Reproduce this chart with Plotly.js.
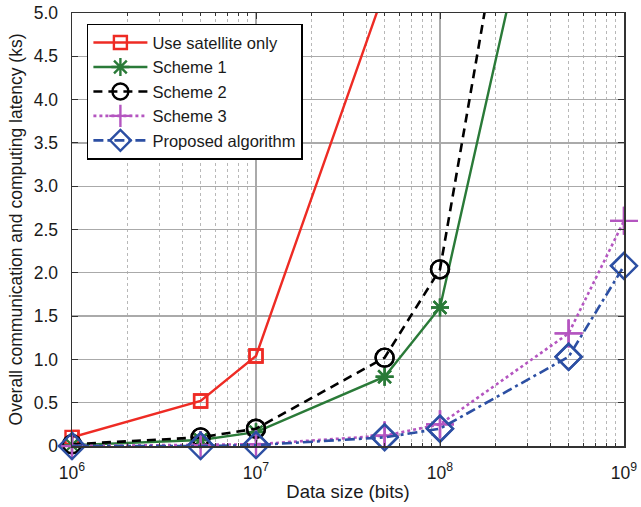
<!DOCTYPE html>
<html><head><meta charset="utf-8">
<script src="https://cdn.plot.ly/plotly-3.0.1.min.js"></script>
<style>html,body{margin:0;padding:0;background:#fff}#c{width:641px;height:507px}</style>
</head><body><div id="c"></div>
<script>
const dataSize = [1e6, 5e6, 1e7, 5e7, 1e8, 5e8, 1e9];
const satelliteOnly = [0.10, 0.52, 1.04, 5.26];
const scheme1 = [0.01, 0.07, 0.16, 0.80, 1.60, 8.2];
const scheme2 = [0.02, 0.10, 0.20, 1.02, 2.04, 10.6];
const scheme3 = [0.00, 0.01, 0.02, 0.12, 0.25, 1.30, 2.60];
const proposed = [0.00, 0.00, 0.01, 0.10, 0.20, 1.03, 2.08];
const yTicks = [0, 0.5, 1.0, 1.5, 2.0, 2.5, 3.0, 3.5, 4.0, 4.5, 5.0];
const yTickText = ['0','0.5','1.0','1.5','2.0','2.5','3.0','3.5','4.0','4.5','5.0'];
const xTicks = [1e6, 1e7, 1e8, 1e9];
const xTickText = ['10<sup>6</sup>','10<sup>7</sup>','10<sup>8</sup>','10<sup>9</sup>'];

const series = [
  {name:'Use satellite only', y:satelliteOnly, color:'#ee2b24', dash:'solid', symbol:'square-open', size:13, width:2.4},
  {name:'Scheme 1', y:scheme1, color:'#2a7a38', dash:'solid', symbol:'asterisk-open', size:15, width:2.4},
  {name:'Scheme 2', y:scheme2, color:'#000000', dash:'9px,6px', symbol:'circle-open', size:18, width:2.6},
  {name:'Scheme 3', y:scheme3, color:'#b455c0', dash:'dot', symbol:'cross-thin-open', size:20, width:2.6},
  {name:'Proposed algorithm', y:proposed, color:'#2c4fa3', dash:'10px,4px,3px,4px', symbol:'diamond-open', size:20, width:2.6}
];
const traces = [];
series.forEach(s => {
  const xs = dataSize.slice(0, s.y.length);
  traces.push({x:xs, y:s.y, name:s.name, mode:'lines+markers', cliponaxis:true,
    line:{color:s.color, width:s.width, dash:s.dash},
    marker:{symbol:s.symbol, size:s.size, color:s.color, line:{color:s.color, width:2.4}}});
  const vx = [], vy = [];
  s.y.forEach((v,i) => { if (v <= 5) { vx.push(xs[i]); vy.push(v); } });
  traces.push({x:vx, y:vy, mode:'markers', showlegend:false, cliponaxis:false, hoverinfo:'skip',
    marker:{symbol:s.symbol, size:s.size, color:s.color, line:{color:s.color, width:2.4}}});
});

const layout = {
  width:641, height:507,
  margin:{l:72, r:17, t:13, b:61},
  paper_bgcolor:'#fff', plot_bgcolor:'#fff',
  font:{family:'Liberation Sans, Arial, sans-serif', size:17, color:'#1a1a1a'},
  xaxis:{type:'log', range:[5.99999, 9.00001], tickvals:xTicks, ticktext:xTickText,
    showgrid:true, gridcolor:'#aaaaaa', gridwidth:1.3,
    showline:true, linecolor:'#333', linewidth:1.5, mirror:'ticks',
    ticks:'inside', ticklen:6, tickcolor:'#333', zeroline:false,
    ticklabelstandoff:10,
    minor:{dtick:'D1', showgrid:true, gridcolor:'#b8b8b8', griddash:'dot', gridwidth:1, ticks:'inside', ticklen:3, tickcolor:'#333'},
    title:{text:'Data size (bits)', font:{size:18.5}, standoff:3},
    tickfont:{size:17.5}},
  yaxis:{range:[0,5], tickvals:yTicks, ticktext:yTickText,
    showgrid:true, gridcolor:'#aaaaaa', gridwidth:1.3,
    showline:true, linecolor:'#333', linewidth:1.5, mirror:'ticks',
    ticks:'inside', ticklen:6, tickcolor:'#333', zeroline:false,
    ticklabelstandoff:9,
    title:{text:'Overall communication and computing latency (ks)', font:{size:17.5}, standoff:6},
    tickfont:{size:17.5}},
  legend:{x:0.027, y:0.975, xanchor:'left', yanchor:'top', bgcolor:'#fff',
    bordercolor:'#000', borderwidth:1.5, font:{size:16.5}, tracegroupgap:0, itemwidth:54},
  showlegend:true
};
Plotly.newPlot('c', traces, layout, {displayModeBar:false, staticPlot:true});
</script></body></html>
